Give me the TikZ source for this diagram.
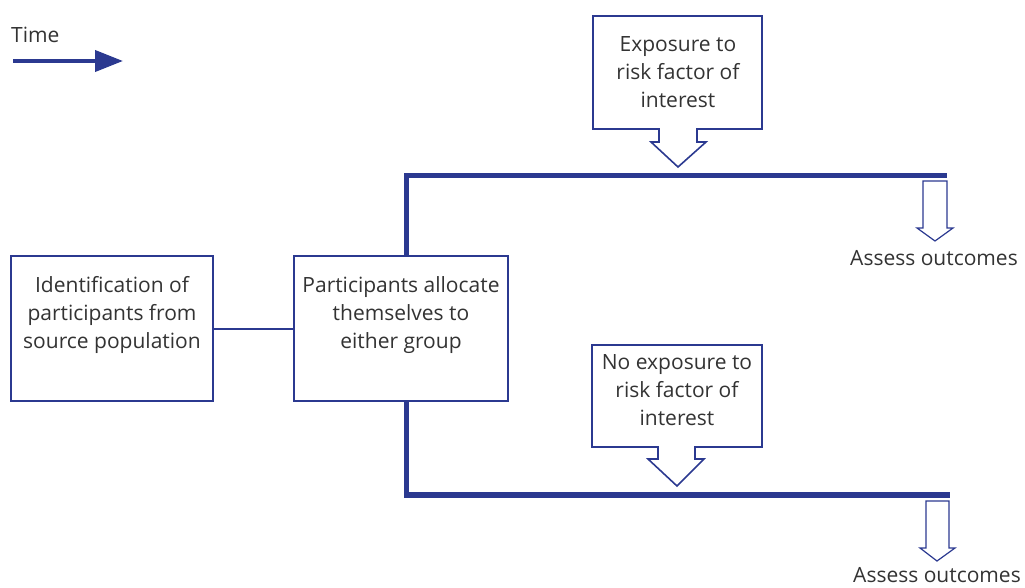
\documentclass[tikz,border=0pt]{standalone}
\usepackage{fontspec}
\setmainfont{Open Sans}
\usetikzlibrary{arrows.meta}
\definecolor{navy}{HTML}{2B3990}
\definecolor{txt}{HTML}{333333}
\tikzset{
  box/.style={draw=navy, line width=2pt, fill=white, inner sep=0pt},
  lbl/.style={text=txt, align=center, inner sep=0pt, font=\fontsize{21}{28}\selectfont},
  thickline/.style={draw=navy, line width=5.5pt},
  thinline/.style={draw=navy, line width=2pt},
  callout/.style={draw=navy, line width=1.6pt, line join=miter},
  outarrow/.style={draw=navy, line width=1.2pt, line join=miter},
}
\begin{document}
\begin{tikzpicture}[x=1pt,y=-1pt]
\useasboundingbox (0,0) rectangle (1025,587);
% Time
\node[lbl, anchor=west] (time) at (11,35) {Time};
\coordinate (ts) at (13,61);
\coordinate (te) at (123,61);
\draw[navy, line width=4pt, -{Triangle[length=28pt,width=21pt]}] (ts) -- (te);
% boxes
\node[box, minimum width=202pt, minimum height=145pt] (b1) at (112,328.5) {};
\node[lbl] (t1) at (112,315) {Identification of\\participants from\\source population};
\node[box, minimum width=214pt, minimum height=145pt] (b2) at (401,328.5) {};
\node[lbl] (t2) at (401,315) {Participants allocate\\themselves to\\either group};
\draw[thinline] (b1.east) -- (b2.west);
% branch lines
\coordinate (topend) at (947,175.5);
\coordinate (botend) at (950,495);
\draw[thickline] ([xshift=5.5pt]b2.north) |- (topend);
\draw[thickline] ([xshift=5.5pt]b2.south) |- (botend);
% top callout
\draw[callout] (593,16) -- (762,16) -- (762,129) -- (697,129) -- (697,142) -- (706,142) -- (678,167) -- (651,142) -- (659,142) -- (659,129) -- (593,129) -- cycle;
\node[lbl] (c1) at (678,72) {Exposure to\\risk factor of\\interest};
% bottom callout
\draw[callout] (592,345) -- (762,345) -- (762,447) -- (695,447) -- (695,459) -- (704,459) -- (677,486) -- (648,459) -- (658,459) -- (658,447) -- (592,447) -- cycle;
\node[lbl] (c2) at (677,390) {No exposure to\\risk factor of\\interest};
% assess arrows
\draw[outarrow] (923,181) -- (947,181) -- (947,228) -- (953,228) -- (935,241) -- (917,228) -- (923,228) -- cycle;
\node[lbl] (a1) at (934,258) {Assess outcomes};
\draw[outarrow] (926,501) -- (949,501) -- (949,548) -- (955,548) -- (937,561) -- (920,548) -- (926,548) -- cycle;
\node[lbl] (a2) at (937,575) {Assess outcomes};
\end{tikzpicture}
\end{document}
